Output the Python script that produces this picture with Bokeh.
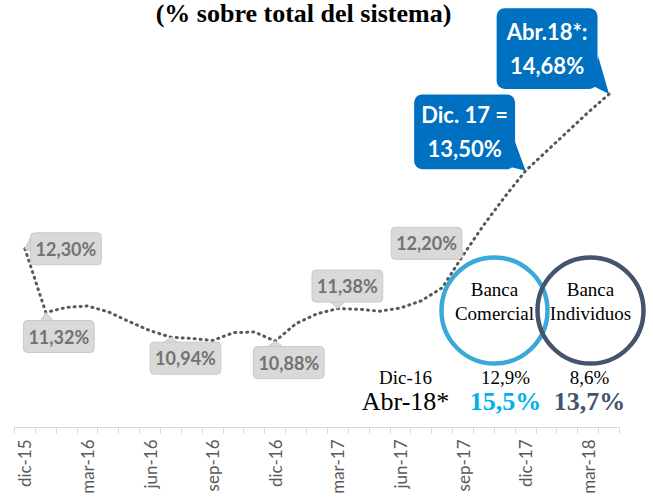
import numpy as np
from bokeh.plotting import figure
from bokeh.models import Range1d, FixedTicker, CustomJSTickFormatter, Label
from bokeh.core.properties import value
from bokeh.embed import file_html
from bokeh.resources import INLINE

# ---------------- data ----------------
months = ["dic-15", "ene-16", "feb-16", "mar-16", "abr-16", "may-16", "jun-16",
          "jul-16", "ago-16", "sep-16", "oct-16", "nov-16", "dic-16", "ene-17",
          "feb-17", "mar-17", "abr-17", "may-17", "jun-17", "jul-17", "ago-17",
          "sep-17", "oct-17", "nov-17", "dic-17", "ene-18", "feb-18", "mar-18",
          "abr-18"]
share = [12.30, 11.32, 11.40, 11.42, 11.33, 11.18, 11.04, 10.94, 10.92, 10.89,
         11.01, 11.02, 10.88, 11.15, 11.30, 11.38, 11.37, 11.34, 11.39, 11.50,
         11.70, 12.20, 12.67, 13.10, 13.50, 13.80, 14.10, 14.40, 14.68]
tick_every = 3

gray_idx = [0, 1, 7, 12, 15, 21]
blue_idx = [24, 28]
blue_prefix = ["Dic. 17 =", "Abr.18*:"]

segments = ["Banca\nComercial", "Banca\nIndividuos"]
periods = ["Dic-16", "Abr-18*"]
seg_dic16 = [12.9, 8.6]
seg_abr18 = [15.5, 13.7]

title_text = "(% sobre total del sistema)"

# ---------------- geometry helpers ----------------
W, H = 653, 497
N = len(months)
FRAME_L, AXIS_R, FRAME_B = 14, 619, 427
PX_X = (AXIS_R - FRAME_L) / N          # px per month
PX_Y = 65.0                            # px per percentage point
Y1 = 11.32 + 312 / PX_Y                # value at top of frame
Y0 = Y1 - FRAME_B / PX_Y               # value at bottom of frame
X1 = (W - FRAME_L) / PX_X


def ddx(px):
    return px / PX_X


def ddy(px):  # px measured downward
    return -px / PX_Y


def sx(x_screen):
    return (x_screen - FRAME_L) / PX_X


def sy(y_screen):
    return Y1 - y_screen / PX_Y


def fmt(v, nd=2):
    return f"{v:.{nd}f}".replace(".", ",") + "%"


xs = [i + 0.5 for i in range(N)]

p = figure(width=W, height=H, output_backend="svg", toolbar_location=None,
           x_range=Range1d(0, X1), y_range=Range1d(Y0, Y1),
           min_border_left=FRAME_L, min_border_right=0, min_border_top=0,
           min_border_bottom=H - FRAME_B)
p.outline_line_color = None
p.grid.visible = False
p.yaxis.visible = False
p.background_fill_color = "white"
p.border_fill_color = "white"

ax = p.xaxis[0]
ax.bounds = (0, N)
ax.ticker = FixedTicker(ticks=[i + 0.5 for i in range(0, N, tick_every)],
                        minor_ticks=list(range(N + 1)))
ax.formatter = CustomJSTickFormatter(args=dict(labels=months),
                                     code="return labels[Math.floor(tick)];")
ax.major_label_orientation = np.pi / 2
ax.major_tick_line_color = None
ax.major_tick_out = 6
ax.major_tick_in = 0
ax.minor_tick_out = 6
ax.minor_tick_in = 0
ax.minor_tick_line_color = "#D9D9D9"
ax.axis_line_color = "#D9D9D9"
ax.major_label_standoff = 6
ax.major_label_text_font = "Lato"
ax.major_label_text_font_size = "17px"
ax.major_label_text_color = "#595959"

# line
p.line(xs, share, line_color="#595959", line_width=3, line_dash="1 5",
       line_cap="round")

# ---------------- gray callouts ----------------
gray_offsets = {0: (41, 0), 1: (13, 24), 7: (14.5, 21), 12: (13.5, 21.5),
                15: (9.5, -22.5), 21: (-36.5, -12)}
gray_ptr = {0: [(6, -12), (6, 2)], 1: [(-6, 9), (8, 9)], 7: [(-8, 6), (8, 6)],
            12: [(-8, 6), (8, 6)], 15: [(-8, -7), (7, -7)],
            21: [(-2, -9), (-2, -1)]}
pxs, pys = [], []
for i in gray_idx:
    ax_, ay_ = xs[i], share[i]
    base = gray_ptr[i]
    pxs.append([ax_ + ddx(base[0][0]), ax_ + ddx(base[1][0]), ax_])
    pys.append([ay_ + ddy(base[0][1]), ay_ + ddy(base[1][1]), ay_])
p.patches(pxs, pys, fill_color="#D9D9D9", line_color="#C9C9C9", line_width=1)
for i in gray_idx:
    ox, oy = gray_offsets[i]
    p.add_layout(Label(x=xs[i] + ddx(ox), y=share[i] + ddy(oy), text=fmt(share[i]),
                       text_align="center", text_baseline="middle",
                       text_font="Lato", text_font_style="bold",
                       text_font_size="18px", text_color="#757171",
                       background_fill_color="#D9D9D9", border_line_color="#C9C9C9",
                       border_line_width=1, padding=5, border_radius=4))

# ---------------- blue callouts ----------------
blue_offsets = {24: (-61, -39), 28: (-62, -45.6)}
blue_pad = {24: 7, 28: 10}
blue_ptr = {24: [(-16, -4), (-11, -30)], 28: [(-11, -38), (-16, -8)]}
bxs, bys = [], []
for i in blue_idx:
    ax_, ay_ = xs[i], share[i]
    base = blue_ptr[i]
    bxs.append([ax_ + ddx(base[0][0]), ax_ + ddx(base[1][0]), ax_])
    bys.append([ay_ + ddy(base[0][1]), ay_ + ddy(base[1][1]), ay_])
p.patches(bxs, bys, fill_color="#0070C0", line_color=None)
for i, pre in zip(blue_idx, blue_prefix):
    ox, oy = blue_offsets[i]
    p.add_layout(Label(x=xs[i] + ddx(ox), y=share[i] + ddy(oy),
                       text=pre + "\n" + fmt(share[i]),
                       text_align="center", text_baseline="middle",
                       text_font="Lato", text_font_style="bold",
                       text_font_size="22px", text_color="white",
                       text_line_height=1.25,
                       background_fill_color="#0070C0", border_line_color=None,
                       padding=blue_pad[i], border_radius=8))

# ---------------- circles ----------------
ring_colors = ["#3AA8D8", "#44546A"]
circ_x = [sx(494), sx(590)]
circ_y = [sy(310), sy(310)]
p.circle(circ_x, circ_y, radius=53, radius_units="screen", fill_color=None,
         line_color=ring_colors, line_width=4.5)
p.text(circ_x, [sy(301)] * 2, text=segments, text_font=value("Liberation Serif"),
       text_font_size="19px", text_align="center", text_baseline="middle",
       text_line_height=1.1, text_color="black")

# ---------------- bottom comparison ----------------
col_x = [sx(405), sx(505), sx(589)]
p.text([col_x[0]], [sy(377)], text=[periods[0]], text_font=value("Liberation Serif"),
       text_font_size="19px", text_align="center", text_baseline="middle",
       text_color="black")
p.text(col_x[1:], [sy(377)] * 2, text=[fmt(v, 1) for v in seg_dic16],
       text_font=value("Liberation Serif"), text_font_size="19px",
       text_align="center", text_baseline="middle", text_color="black")
p.text([col_x[0]], [sy(401)], text=[periods[1]], text_font=value("Liberation Serif"),
       text_font_size="26px", text_align="center", text_baseline="middle",
       text_color="black")
p.text(col_x[1:], [sy(401)] * 2, text=[fmt(v, 1) for v in seg_abr18],
       text_font=value("Liberation Serif"), text_font_size="26px",
       text_font_style="bold", text_align="center", text_baseline="middle",
       text_color=["#00B0F0", "#44546A"])

# ---------------- title ----------------
p.add_layout(Label(x=sx(303), y=sy(-2), text=title_text, text_align="center",
                   text_baseline="top", text_font="Liberation Serif",
                   text_font_style="bold", text_font_size="26px",
                   text_color="black"))

open("out.html", "w").write(file_html(p, INLINE))
